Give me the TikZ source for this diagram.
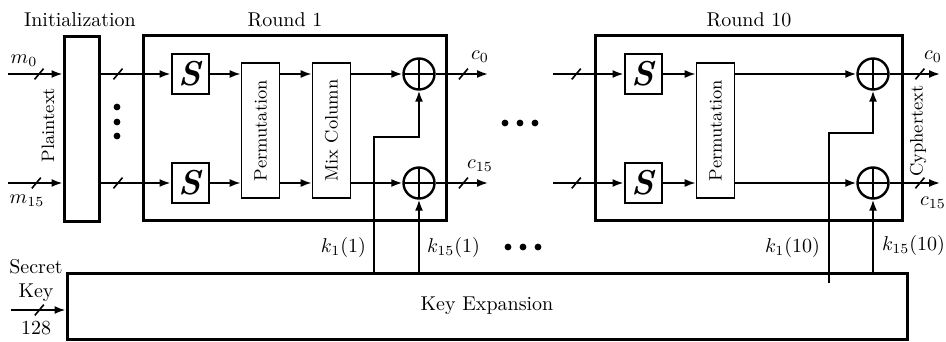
\documentclass[tikz,border=0pt]{standalone}
\usepackage{tikz}
\usetikzlibrary{arrows.meta,positioning}
\tikzset{
  aes/stage/.style={
    draw,
    line width=1.5pt,
    minimum height=92pt,
    inner sep=0pt,
    fill=white
  },
  aes/sbox/.style={
    draw,
    line width=1pt,
    minimum width=18.5pt,
    minimum height=20pt,
    inner sep=0pt,
    font=\LARGE\bfseries\itshape
  },
  aes/op/.style={
    draw,
    line width=0.8pt,
    rotate=90,
    minimum width=67.5pt,
    minimum height=19pt,
    inner sep=0pt,
    font=\small
  },
  aes/xor/.style={
    circle,
    draw,
    line width=1.2pt,
    minimum size=15.5pt,
    inner sep=0pt,
    path picture={
      \draw[line width=0.85pt]
        (path picture bounding box.north) -- (path picture bounding box.south)
        (path picture bounding box.west) -- (path picture bounding box.east);
    }
  },
  aes/link/.style={-{Latex[length=5.5pt,width=4pt]}, line width=0.9pt},
  aes/bus/.style={draw, line width=0.8pt, inner sep=0pt, minimum width=0pt, minimum height=7pt, rotate=-40},
  aes/title/.style={anchor=base},
  aes/side/.style={rotate=90, font=\small}
}

\begin{document}
\begin{tikzpicture}[x=0.5pt,y=-0.5pt]
  \useasboundingbox (0,0) rectangle (946,342);

  % stages
  \node[aes/stage,minimum width=17.5pt] (init) at (81.5,129) {};
  \node[aes/stage,minimum width=151.5pt] (rnd1) at (294.5,128) {};
  \node[aes/stage,minimum width=153.5pt] (rnd10) at (748.5,128) {};
  \node[aes/stage,minimum width=420pt,minimum height=33pt] (keyexp) at (487,306) {Key Expansion};

  \node[aes/title] (inittitle) at (80,27) {Initialization};
  \node[aes/title] (r1title) at (285,27) {Round 1};
  \node[aes/title] (r10title) at (749,27) {Round 10};

  % round 1
  \node[aes/sbox] (sA0) at (190,74) {S};
  \node[aes/sbox] (sA15) at (190,183) {S};
  \node[aes/op] (permA) at (260.5,130.5) {Permutation};
  \node[aes/op] (mixA) at (331.5,130.5) {Mix Column};
  \node[aes/xor] (xA0) at (419,74) {};
  \node[aes/xor] (xA15) at (419,183) {};

  % round 10
  \node[aes/sbox] (sB0) at (643,74) {S};
  \node[aes/sbox] (sB15) at (643,183) {S};
  \node[aes/op] (permB) at (715.5,130.5) {Permutation};
  \node[aes/xor] (xB0) at (873,74) {};
  \node[aes/xor] (xB15) at (873,183) {};

  % plaintext in
  \coordinate (m0in) at (8,74);
  \coordinate (m15in) at (8,183);
  \draw[aes/link] (m0in) -- node[aes/bus,pos=0.57]{} (m0in -| init.west);
  \draw[aes/link] (m15in) -- node[aes/bus,pos=0.52]{} (m15in -| init.west);
  \node (m0) at (24,61) {$m_0$};
  \node (m15) at (27,201) {$m_{15}$};
  \node[aes/side] (plain) at (48,125) {Plaintext};
  \foreach \y in {107,122,136} \fill (117,\y) circle (1.7pt);

  \draw[aes/link] (init.east |- sA0) -- node[aes/bus,pos=0.25]{} (sA0.west);
  \draw[aes/link] (init.east |- sA15) -- node[aes/bus,pos=0.25]{} (sA15.west);
  \draw[aes/link] (sA0.east) -- (sA0.east -| permA.north);
  \draw[aes/link] (sA15.east) -- (sA15.east -| permA.north);
  \draw[aes/link] (sA0 -| permA.south) -- (sA0 -| mixA.north);
  \draw[aes/link] (sA15 -| permA.south) -- (sA15 -| mixA.north);
  \draw[aes/link] (sA0 -| mixA.south) -- (xA0.west);
  \draw[aes/link] (sA15 -| mixA.south) -- (xA15.west);

  \coordinate (cA0) at (488,74);
  \coordinate (cA15) at (488,183);
  \draw[aes/link] (xA0.east) -- node[aes/bus,pos=0.53]{} (cA0);
  \draw[aes/link] (xA15.east) -- node[aes/bus,pos=0.53]{} (cA15);
  \node (cA0lab) at (480,57) {$c_0$};
  \node (cA15lab) at (480,166) {$c_{15}$};

  % key into round 1
  \coordinate (kA1) at (374,137);
  \draw[aes/link] (kA1 |- keyexp.north) -- (kA1) -| (xA0.south);
  \draw[aes/link] (xA15.south |- keyexp.north) -- (xA15.south);
  \node[anchor=east] (kA1lab) at (373,247) {$k_1(1)$};
  \node[anchor=west] (kA15lab) at (420,247) {$k_{15}(1)$};

  % between rounds
  \foreach \x in {505,520,535} \fill (\x,123) circle (1.7pt);
  \foreach \x in {508,523,538} \fill (\x,247) circle (1.7pt);

  % round 10 wiring
  \coordinate (bB0) at (553,74);
  \coordinate (bB15) at (553,183);
  \draw[aes/link] (bB0) -- node[aes/bus,pos=0.33]{} (sB0.west);
  \draw[aes/link] (bB15) -- node[aes/bus,pos=0.33]{} (sB15.west);
  \draw[aes/link] (sB0.east) -- (sB0.east -| permB.north);
  \draw[aes/link] (sB15.east) -- (sB15.east -| permB.north);
  \draw[aes/link] (sB0 -| permB.south) -- (xB0.west);
  \draw[aes/link] (sB15 -| permB.south) -- (xB15.west);

  \coordinate (cB0) at (940,74);
  \coordinate (cB15) at (940,183);
  \draw[aes/link] (xB0.east) -- node[aes/bus,pos=0.6]{} (cB0);
  \draw[aes/link] (xB15.east) -- node[aes/bus,pos=0.6]{} (cB15);
  \node (cB0lab) at (933,57) {$c_0$};
  \node (cB15lab) at (933,203) {$c_{15}$};
  \node[aes/side] (cypher) at (918,131) {Cyphertext};

  % key into round 10
  \coordinate (kB1) at (829,133);
  \coordinate (kB1foot) at (829,283);
  \draw[aes/link] (kB1foot) -- (kB1) -| (xB0.south);
  \draw[aes/link] (xB15.south |- keyexp.north) -- (xB15.south);
  \node[anchor=east] (kB1lab) at (827,247) {$k_1(10)$};
  \node[anchor=west] (kB15lab) at (875,245) {$k_{15}(10)$};

  % secret key
  \node[align=center] (secret) at (36,280) {Secret\\Key};
  \coordinate (keyin) at (11,310);
  \draw[aes/link] (keyin) -- node[aes/bus,pos=0.52]{} (keyin -| keyexp.west);
  \node (keylen) at (36,328) {128};
\end{tikzpicture}
\end{document}
